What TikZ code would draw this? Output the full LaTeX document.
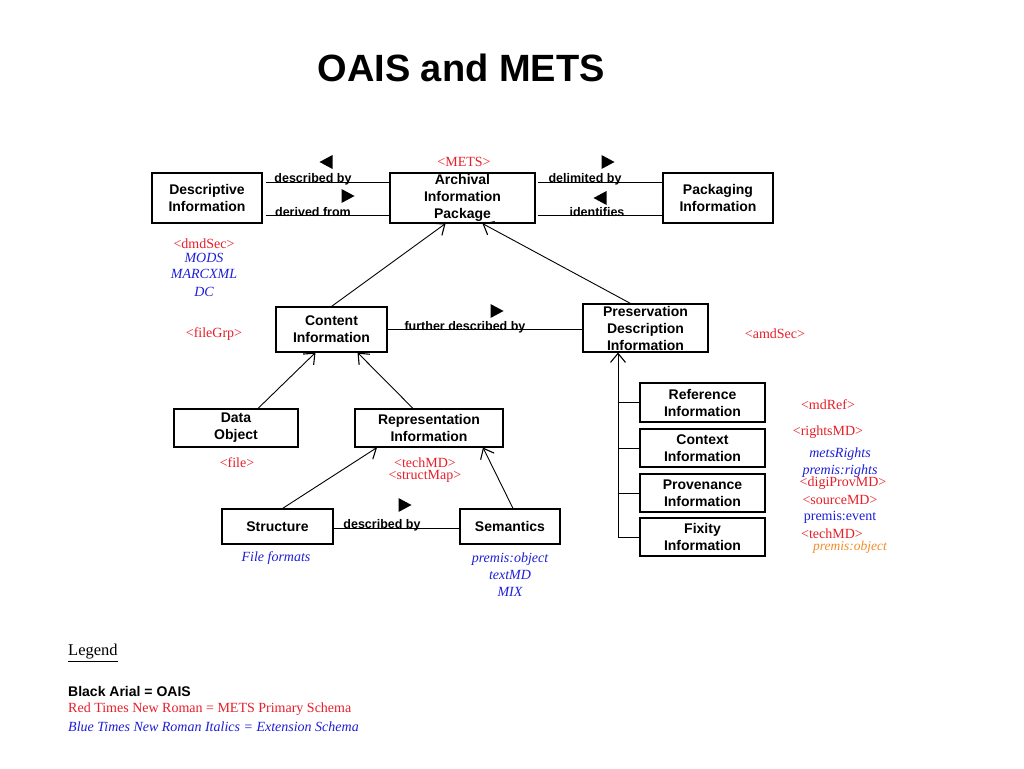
\documentclass[tikz,border=0pt]{standalone}
\usepackage{fontspec}
\setmainfont{Liberation Serif}
\setsansfont{Liberation Sans}
\usepackage{tikz}
\usetikzlibrary{arrows.meta, positioning, calc}

\definecolor{metsred}{RGB}{230,30,40}
\definecolor{extblue}{RGB}{30,30,215}
\definecolor{extorange}{RGB}{240,140,40}

\tikzset{
  box/.style={draw, line width=1.1pt, align=center, inner sep=0pt,
    font=\sffamily\bfseries\fontsize{14}{17}\selectfont},
  rel/.style={font=\sffamily\bfseries\fontsize{12.5}{14}\selectfont, inner sep=0pt},
  mets/.style={text=metsred, font=\fontsize{14}{12}\selectfont, inner sep=0pt, align=center},
  ext/.style={text=extblue, font=\itshape\fontsize{14}{17}\selectfont, inner sep=0pt, align=center},
  arr/.style={line width=0.9pt, -{Straight Barb[length=9pt,width=15pt,line width=1.1pt]}},
  link/.style={line width=0.8pt},
  rtri/.pic={\fill (-6.5,-7) -- (6.5,0) -- (-6.5,7) -- cycle;},
  ltri/.pic={\fill (6.5,-7) -- (-6.5,0) -- (6.5,7) -- cycle;}
}

\begin{document}
\begin{tikzpicture}[x=1pt,y=1pt]
                \useasboundingbox (0,0) rectangle (1024,-768);

                % title
                \node[font=\sffamily\bfseries\fontsize{38}{40}\selectfont] (title) at (461,-68) {OAIS and METS};

                % OAIS boxes
                \node[box, minimum width=110pt, minimum height=50pt] (desc) at (207,-198) {Descriptive\\Information};
                \node[box, minimum width=145pt, minimum height=50pt] (aip) at (462.5,-198) {Archival\\Information\\Package};
                \node[box, minimum width=110pt, minimum height=50pt] (pack) at (718,-198) {Packaging\\Information};
                \node[box, minimum width=111pt, minimum height=45pt] (content) at (331.5,-329.5) {Content\\Information};
                \node[box, minimum width=125pt, minimum height=48pt] (pdi) at (645.5,-328) {Preservation\\Description\\Information};
                \node[box, minimum width=124pt, minimum height=38pt] (data) at (236,-428) {Data\\Object};
                \node[box, minimum width=148pt, minimum height=38pt] (rep) at (429,-428) {Representation\\Information};
                \node[box, minimum width=111pt, minimum height=35pt] (struct) at (277.5,-526.5) {Structure};
                \node[box, minimum width=100pt, minimum height=35pt] (sem) at (510,-526.5) {Semantics};
                \node[box, minimum width=125pt, minimum height=39pt] (ref) at (702.5,-402.5) {Reference\\Information};
                \node[box, minimum width=125pt, minimum height=38pt] (ctx) at (702.5,-448) {Context\\Information};
                \node[box, minimum width=125pt, minimum height=38pt] (prov) at (702.5,-493) {Provenance\\Information};
                \node[box, minimum width=125pt, minimum height=38pt] (fix) at (702.5,-537) {Fixity\\Information};

                % horizontal relations
                \draw[link] ([xshift=3pt,yshift=16pt]desc.east) -- ([yshift=16pt]aip.west);
                \draw[link] ([xshift=3pt,yshift=-17pt]desc.east) -- ([yshift=-17pt]aip.west);
                \draw[link] ([xshift=2pt,yshift=16pt]aip.east) -- ([yshift=16pt]pack.west);
                \draw[link] ([xshift=2pt,yshift=-17pt]aip.east) -- ([yshift=-17pt]pack.west);
                \draw[link] (content.east) -- (content.east -| pdi.west);
                \draw[link] ([yshift=-1.5pt]struct.east) -- ([yshift=-1.5pt]sem.west);

                \node[rel] (descby) at (313,-179) {described by};
                \node[rel] (derfrom) at (313,-212) {derived from};
                \node[rel] (delim) at (585,-179) {delimited by};
                \node[rel] (ident) at (597,-212) {identifies};
                \node[rel] (further) at (465,-327) {further described by};
                \node[rel] (semby) at (382,-525) {described by};

                \pic at (326,-162) {ltri};
                \pic at (348,-196) {rtri};
                \pic at (608,-162) {rtri};
                \pic at (600,-198) {ltri};
                \pic at (497,-311) {rtri};
                \pic at (405,-505) {rtri};

                % is-a arrows
                \draw[arr] (content.north) -- ([xshift=-17pt]aip.south);
                \draw[arr] ([xshift=-15pt]pdi.north) -- ([xshift=20pt]aip.south);
                \draw[arr] ([xshift=22pt]data.north) -- ([xshift=-16pt]content.south);
                \draw[arr] ([xshift=-16pt]rep.north) -- ([xshift=26pt]content.south);
                \draw[arr] ([xshift=5pt]struct.north) -- ([xshift=-52pt]rep.south);
                \draw[arr] ([xshift=3pt]sem.north) -- ([xshift=54pt]rep.south);

                % PDI tree
                \coordinate (trunk) at (618,-537);
                \draw[arr] (trunk) -- (trunk |- pdi.south);
                \foreach \b in {ref,ctx,prov,fix}
                    \draw[link] (\b.west) -- (\b.west -| trunk);

                % METS labels
                \node[mets] (metsl) at (464,-162) {<METS>};
                \node[mets] (dmd) at (204,-244) {<dmdSec>};
                \node[mets] (filegrp) at (214,-334) {<fileGrp>};
                \node[mets] (amd) at (775,-334) {<amdSec>};
                \node[mets] (filel) at (237,-463) {<file>};
                \node[mets] (techrep) at (425,-470) {<techMD>\\<structMap>};
                \node[mets] (mdref) at (828,-405) {<mdRef>};
                \node[mets] (rights) at (828,-432) {<rightsMD>};
                \node[mets] (digi) at (843,-483) {<digiProvMD>};
                \node[mets] (source) at (840,-500) {<sourceMD>};
                \node[mets] (techpdi) at (832,-534) {<techMD>};

                % extension schemas
                \node[ext] (mods) at (204,-258) {MODS};
                \node[ext] (marc) at (204,-274) {MARCXML};
                \node[ext] (dc) at (204,-292) {DC};
                \node[ext] (formats) at (276,-558) {File formats};
                \node[ext] (semext) at (510,-575) {premis:object\\textMD\\MIX};
                \node[ext] (metsr) at (840,-454) {metsRights};
                \node[ext] (premr) at (840,-471) {premis:rights};
                \node[ext, font=\upshape\fontsize{14}{17}\selectfont] (preme) at (840,-517) {premis:event};
                \node[ext, text=extorange, font=\itshape\fontsize{13.5}{17}\selectfont] (premo) at (850,-547) {premis:object};

                % legend
                \node[anchor=west, inner sep=0pt, font=\fontsize{16.5}{18}\selectfont] (legend) at (68,-653) {\underline{Legend}};
                \node[anchor=west, inner sep=0pt, font=\sffamily\bfseries\fontsize{14}{16}\selectfont] (leg1) at (68,-691) {Black Arial = OAIS};
                \node[anchor=west, inner sep=0pt, text=metsred, font=\fontsize{14}{16}\selectfont] (leg2) at (68,-709) {Red Times New Roman = METS Primary Schema};
                \node[anchor=west, inner sep=0pt, text=extblue, font=\itshape\fontsize{14}{16}\selectfont] (leg3) at (68,-727) {Blue Times New Roman Italics = Extension Schema};
            \end{tikzpicture}
\end{document}
